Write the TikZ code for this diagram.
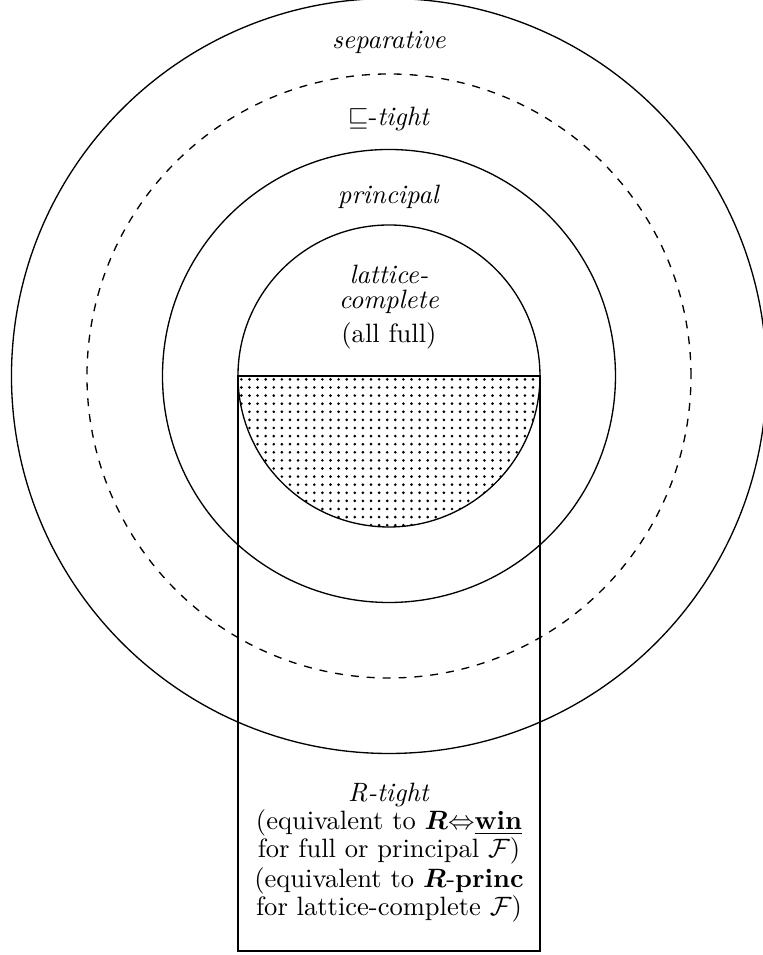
\documentclass[tikz,border=0pt]{standalone}
\usepackage{amsmath,amssymb}
\begin{document}
\begin{tikzpicture}[
  ring/.style={draw, line width=0.5pt},
  lbl/.style={anchor=base, inner sep=0pt, font=\normalsize},
  dotmark/.style={fill=black}
]
\useasboundingbox (-5.152,-7.669) rectangle (4.941,4.980);
% dotted lower half of inner circle
\begin{scope}
  \clip (-2,0) arc[start angle=180, end angle=360, radius=2] -- cycle;
  \foreach \i in {0,...,37} {
    \foreach \j in {0,...,18} {
      \fill[dotmark] ({-1.955+\i*0.1073},{-0.045-\j*0.1073}) circle[radius=0.55pt];
    }
  }
\end{scope}
\draw[ring] (-2,0) -- (2,0);
% circles
\draw[ring] (0,0) circle[radius=2];
\draw[ring] (0,0) circle[radius=3];
\draw[ring, dashed] (0,0) circle[radius=4];
\draw[ring] (0,0) circle[radius=5];
% box
\draw[ring] (-2,0) rectangle (2,-7.616);
% labels
\node[lbl] (sep) at (0,4.34) {\textit{separative}};
\node[lbl] (sq) at (0,3.32) {$\sqsubseteq$-\textit{tight}};
\node[lbl] (pr) at (0,2.29) {\textit{principal}};
\node[lbl] (lc1) at (0,1.23) {\textit{lattice-}};
\node[lbl] (lc2) at (0,0.90) {\textit{complete}};
\node[lbl] (af) at (0,0.45) {(all full)};
\node[lbl] (rt) at (0,-5.64) {\textit{R-tight}};
\node[lbl] (e1) at (0,-6.01) {(equivalent to $\boldsymbol{R}{\Leftrightarrow}$\underline{\textbf{win}}};
\node[lbl] (e2) at (0,-6.38) {for full or principal $\mathcal{F}$)};
\node[lbl] (e3) at (0,-6.77) {(equivalent to $\boldsymbol{R}$-\textbf{princ}};
\node[lbl] (e4) at (0,-7.14) {for lattice-complete $\mathcal{F}$)};
\end{tikzpicture}
\end{document}
